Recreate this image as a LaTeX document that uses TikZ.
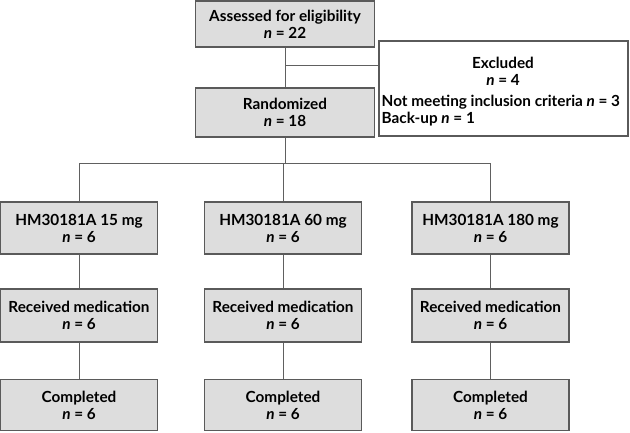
\documentclass[tikz,border=0pt]{standalone}
\usepackage{fontspec}
\setmainfont{Lato}
\definecolor{boxgray}{HTML}{DDDDDD}
\definecolor{edgegray}{HTML}{5A5A5A}
\definecolor{linegray}{HTML}{606060}
\begin{document}
\begin{tikzpicture}[x=1pt,y=1pt,
  txt/.style={font=\bfseries\fontsize{15.3}{17}\selectfont},
  box/.style={draw=edgegray, fill=boxgray, line width=1.1pt, minimum width=157pt, minimum height=52pt, align=center, inner sep=0pt, txt},
  wbox/.style={draw=edgegray, fill=white, line width=1.1pt, inner sep=0pt},
  conn/.style={draw=linegray, line width=1pt}]
\useasboundingbox (0,0) rectangle (630,-432);
% top column
\node[box, minimum width=179pt, minimum height=46pt] (assess) at (285,-24) {Assessed for eligibility\\\textit{n} = 22};
\node[box, minimum width=179pt, minimum height=49pt] (rand) at (285,-112.5) {Randomized\\\textit{n} = 18};
\node[wbox, minimum width=249pt, minimum height=95pt] (excl) at (503.5,-88.5) {};
\node[txt, align=center] (exclhead) at (503,-71) {Excluded\\\textit{n} = 4};
\node[txt, align=left, anchor=west, inner sep=0pt] (excldet) at (381.5,-111) {Not meeting inclusion criteria \textit{n} = 3\\Back-up \textit{n} = 1};
% groups
\node[box] (g1) at (79,-228) {HM30181A 15 mg\\\textit{n} = 6};
\node[box] (g2) at (283,-228) {HM30181A 60 mg\\\textit{n} = 6};
\node[box] (g3) at (490.5,-228) {HM30181A 180 mg\\\textit{n} = 6};
\node[box, minimum height=53pt] (r1) at (79,-315.5) {Received medication\\\textit{n} = 6};
\node[box, minimum height=53pt] (r2) at (283,-315.5) {Received medication\\\textit{n} = 6};
\node[box, minimum height=53pt] (r3) at (490.5,-315.5) {Received medication\\\textit{n} = 6};
\node[box, minimum height=51pt] (c1) at (79,-405) {Completed\\\textit{n} = 6};
\node[box, minimum height=51pt] (c2) at (283,-405) {Completed\\\textit{n} = 6};
\node[box, minimum height=51pt] (c3) at (490.5,-405) {Completed\\\textit{n} = 6};
% connectors
\coordinate (split) at (assess.south |- 0,-65);
\draw[conn] (assess.south) -- (rand.north);
\draw[conn] (split) -- (excl.west |- split);
\coordinate (bar) at (283,-163);
\draw[conn] (rand.south) -- (rand.south |- bar);
\draw[conn] (g1.north) -- (g1.north |- bar) -- (g3.north |- bar) -- (g3.north);
\draw[conn] (g2.north |- bar) -- (g2.north);
\foreach \i in {1,2,3}{
  \draw[conn] (g\i.south) -- (r\i.north);
  \draw[conn] (r\i.south) -- (c\i.north);
}
\end{tikzpicture}
\end{document}
